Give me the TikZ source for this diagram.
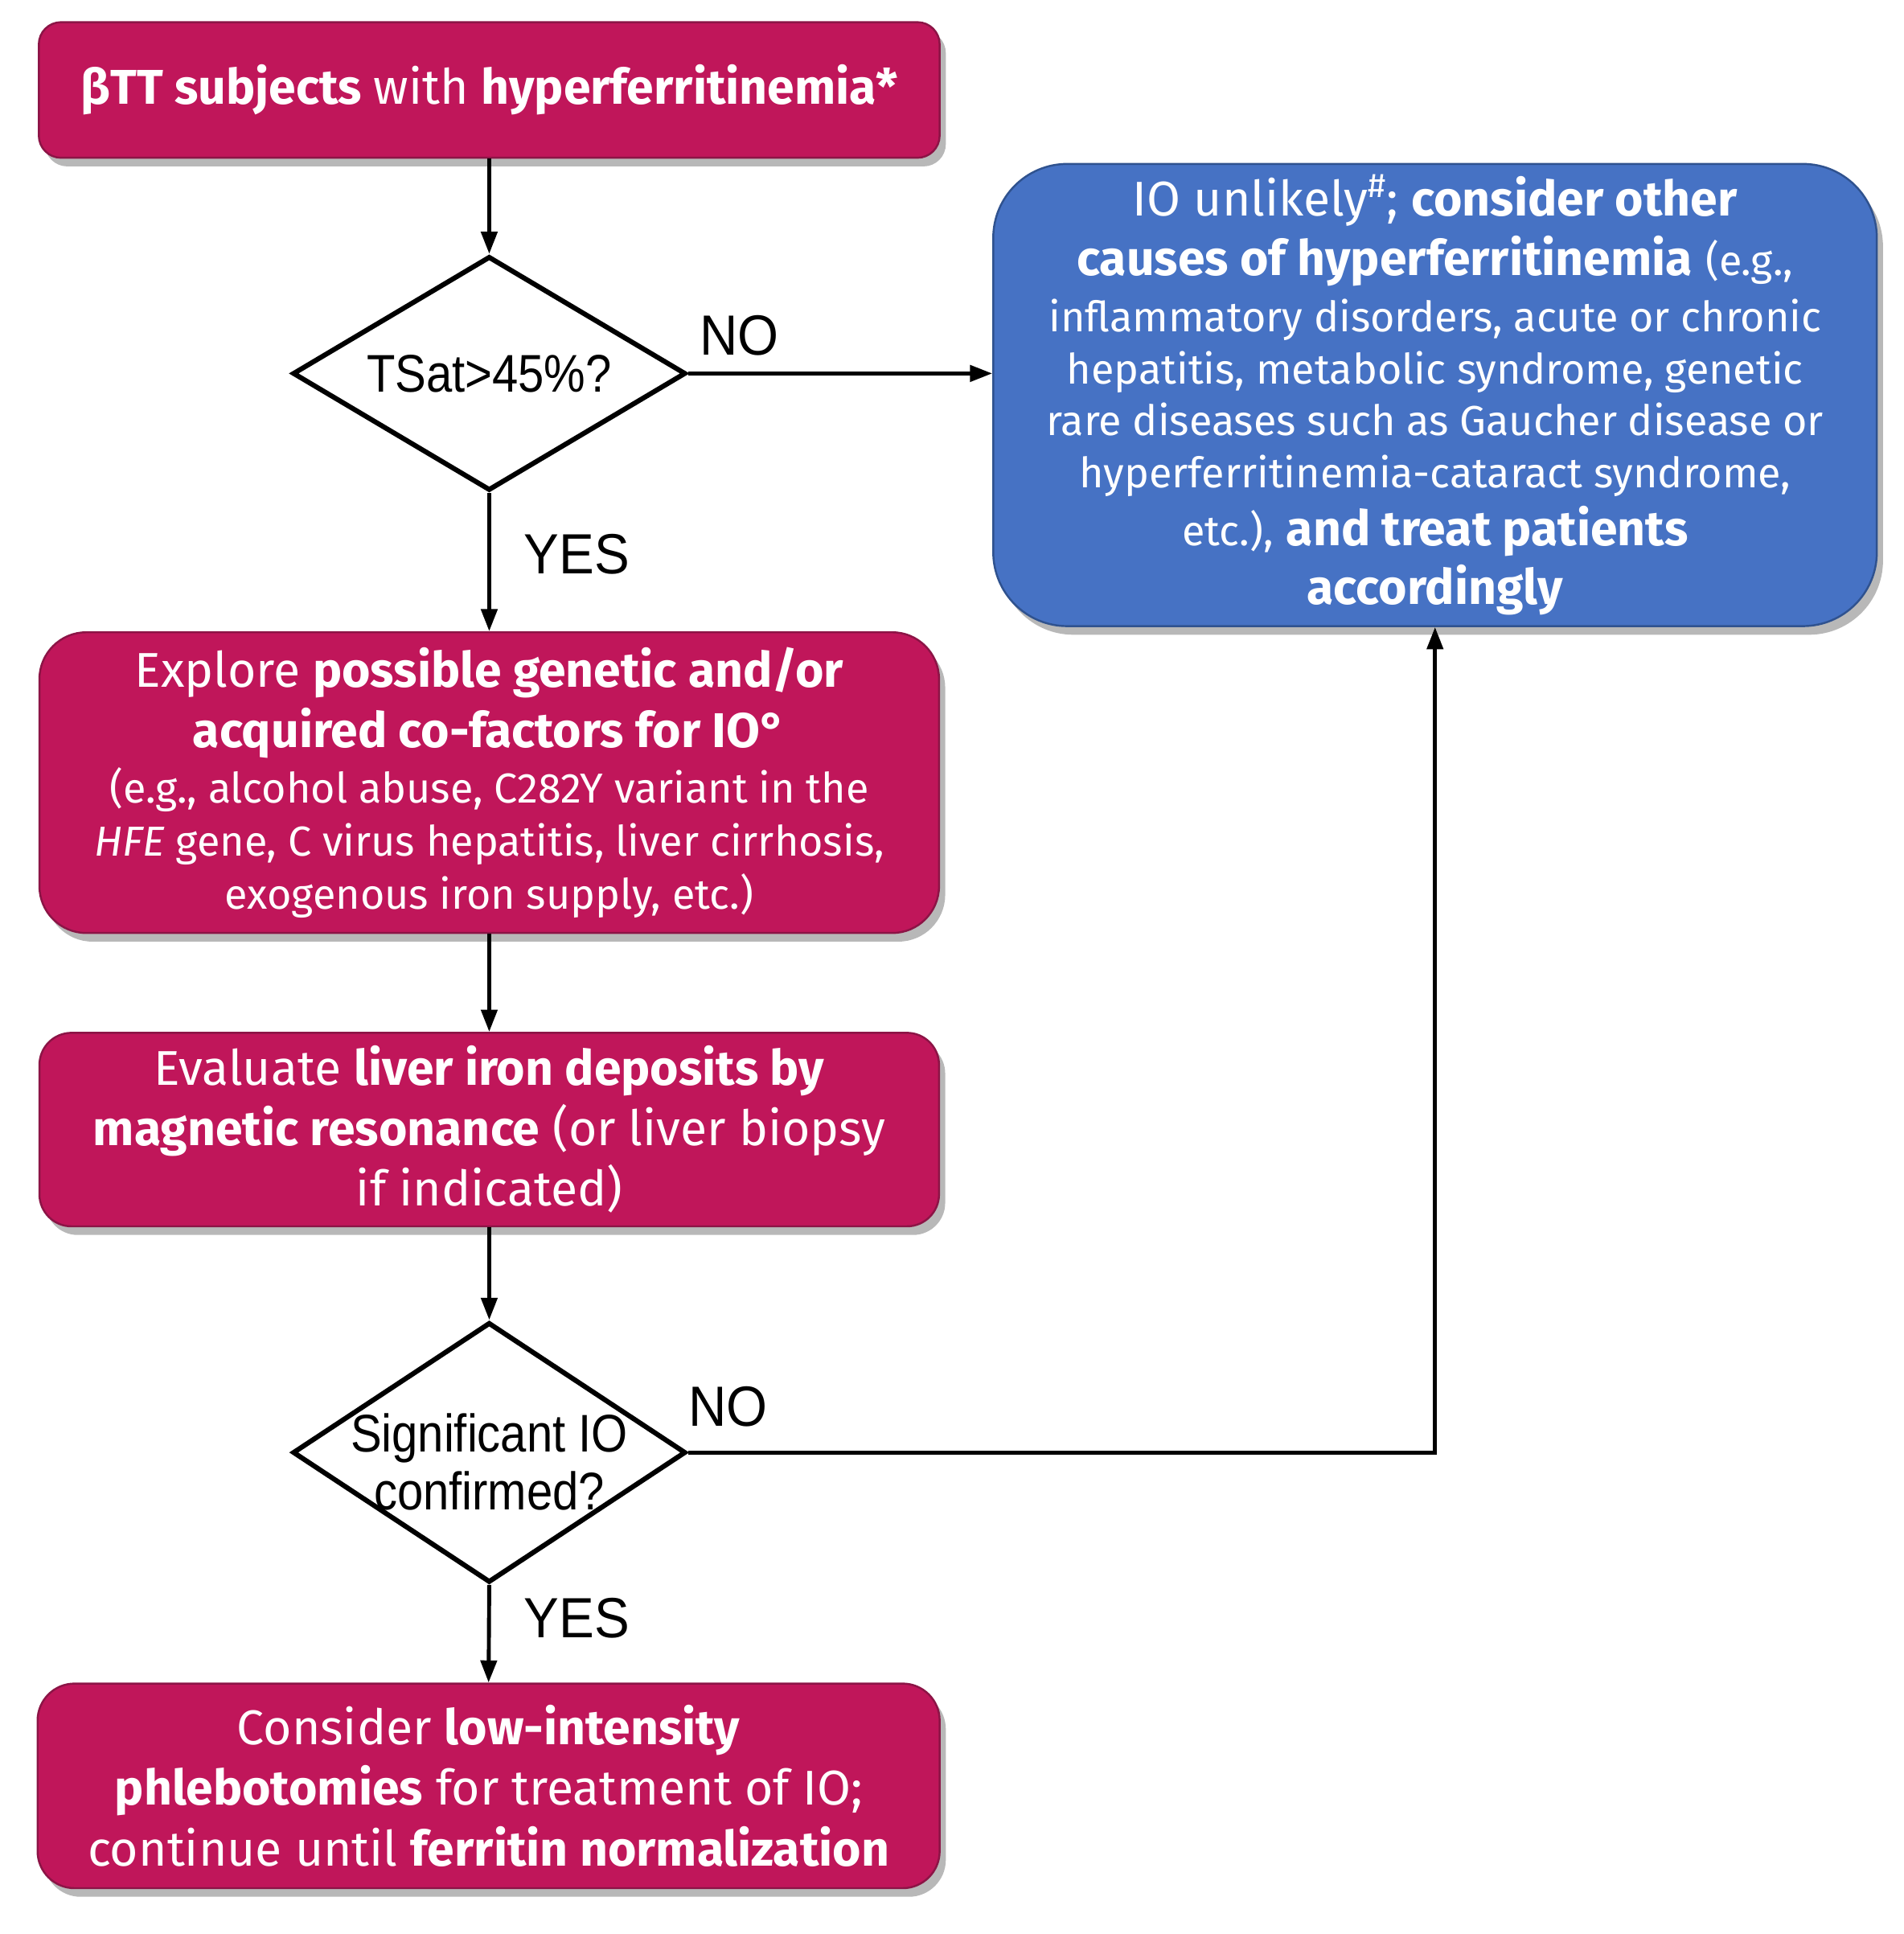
\documentclass[tikz,border=0pt]{standalone}
\usepackage{fontspec}
\setmainfont{Fira Sans}
\newfontfamily\arialn[FakeStretch=0.88]{Liberation Sans}
\newfontfamily\ariallbl[FakeStretch=0.93]{Liberation Sans}
\usetikzlibrary{shapes.geometric,arrows.meta,shadows}
\definecolor{mag}{RGB}{192,22,90}
\definecolor{magdark}{RGB}{140,20,70}
\definecolor{bluebox}{RGB}{70,114,196}
\definecolor{bluedark}{RGB}{47,82,143}
\newcommand\mainsz{\fontsize{19.8}{24.5}\selectfont}
\newcommand\smtxt{\fontsize{17}{21}\selectfont}
\tikzset{
  mbox/.style={draw=magdark, line width=0.8pt, fill=mag, text=white, align=center,
    inner sep=0pt, font=\mainsz,
    drop shadow={shadow xshift=2.5pt, shadow yshift=-3.5pt, fill=black, opacity=0.28}},
  bbox/.style={mbox, draw=bluedark, fill=bluebox},
  dec/.style={draw=black, line width=2pt, shape=diamond, inner sep=-10pt, aspect=1.6,
    align=center, font=\arialn\fontsize{21.5}{23}\selectfont, fill=white},
  dtext/.style={inner sep=0pt, align=center, font=\arialn\fontsize{21.5}{23.5}\selectfont},
  arr/.style={draw=black, line width=1.6pt, -{Triangle[length=9pt,width=6.5pt]}},
  lbl/.style={font=\ariallbl\fontsize{23}{25}\selectfont, inner sep=0pt}
}
\begin{document}
\begin{tikzpicture}[x=0.5pt,y=-0.5pt]
\useasboundingbox (0,0) rectangle (1545,1569.2);
\fill[white] (0,0) rectangle (1545,1569.2);

\node[mbox, minimum width=365.5pt, minimum height=55pt, rounded corners=9pt] (b1) at (397,73)
  {\bfseries βTT subjects \mdseries with \bfseries hyperferritinemia*};

\node[dec, minimum width=159.5pt, minimum height=95pt] (d1) at (397,303) {TSat>45\%?};

\node[bbox, minimum width=358.5pt, minimum height=187.5pt, rounded corners=30pt] (blue) at (1164.5,320.5)
  {IO unlikely\textsuperscript{\#}; \textbf{consider other}\\[-0.5pt]
   \textbf{causes of hyperferritinemia} {\smtxt (e.g.,}\\[-1.5pt]
   {\smtxt inflammatory disorders, acute or chronic}\\[-3.5pt]
   {\smtxt hepatitis, metabolic syndrome, genetic}\\[-3.5pt]
   {\smtxt rare diseases such as Gaucher disease or}\\[-3.5pt]
   {\smtxt hyperferritinemia-cataract syndrome,}\\[-1pt]
   {\smtxt etc.),} \textbf{and treat patients}\\[-0.5pt]
   \textbf{accordingly}};

\node[mbox, minimum width=365pt, minimum height=122pt, rounded corners=19pt] (b2) at (397,635)
  {Explore \textbf{possible genetic and/or}\\
   \textbf{acquired co-factors for IO°}\\[-2pt]
   {\smtxt (e.g., alcohol abuse, C282Y variant in the}\\[-3pt]
   {\smtxt \textit{HFE} gene, C virus hepatitis, liver cirrhosis,}\\[-3pt]
   {\smtxt exogenous iron supply, etc.)}};

\node[mbox, minimum width=365pt, minimum height=78.5pt, rounded corners=13pt] (b3) at (397,916.5)
  {Evaluate \textbf{liver iron deposits by}\\
   \textbf{magnetic resonance} (or liver biopsy\\
   if indicated)};

\node[dec, minimum width=159.5pt, minimum height=105.5pt] (d2) at (397,1178.5) {};
\node[dtext] (d2t) at (397,1186) {Significant IO\\confirmed?};

\node[mbox, minimum width=366pt, minimum height=83pt, rounded corners=15pt] (b4) at (396.5,1449)
  {Consider \textbf{low-intensity}\\
   \textbf{phlebotomies} for treatment of IO;\\
   continue until \textbf{ferritin normalization}};

\node[lbl] (no1) at (600,272) {NO};
\node[lbl] (yes1) at (468,450) {YES};
\node[lbl] (no2) at (591,1141) {NO};
\node[lbl] (yes2) at (468,1313) {YES};

\draw[arr] (b1.south) -- (d1.north);
\draw[arr] (d1.east) -- (d1.east -| blue.west);
\draw[arr] (d1.south) -- (b2.north);
\draw[arr] (b2.south) -- (b3.north);
\draw[arr] (b3.south) -- (d2.north);
\draw[arr] (d2.south) -- (b4.north);
\draw[arr] (d2.east) -| (blue.south);
\end{tikzpicture}
\end{document}
